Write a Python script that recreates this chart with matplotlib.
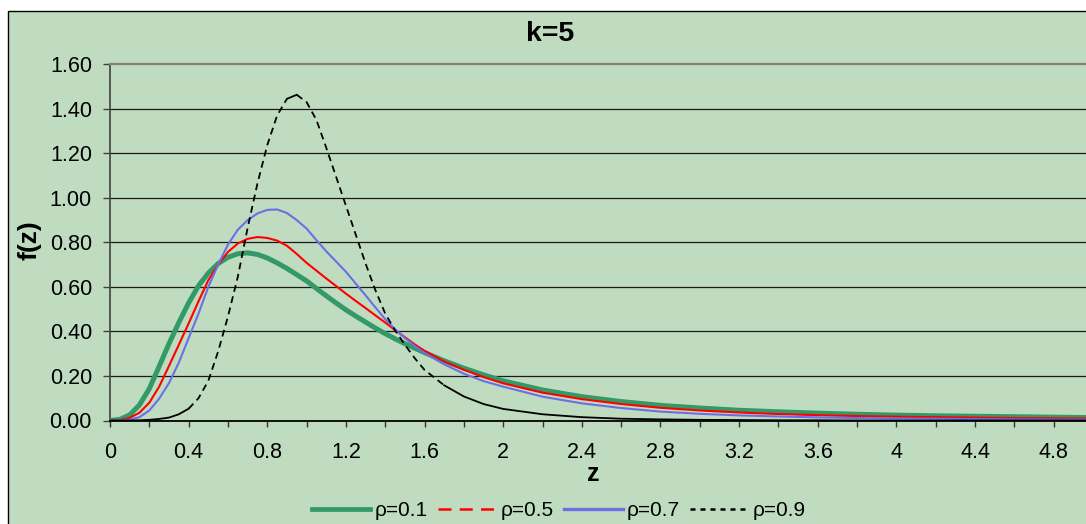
import matplotlib
matplotlib.use('Agg')
import matplotlib.pyplot as plt
from matplotlib.lines import Line2D
from matplotlib.patches import Rectangle
import numpy as np

plt.rcParams['font.family'] = ['Liberation Sans', 'DejaVu Sans']

# valores (k=5)
z = [0.0, 0.05, 0.1, 0.15, 0.2, 0.25, 0.3, 0.35, 0.4, 0.45, 0.5, 0.55, 0.6, 0.65,
     0.7, 0.75, 0.8, 0.85, 0.9, 0.95, 1.0, 1.05, 1.1, 1.15, 1.2, 1.25, 1.3, 1.35,
     1.4, 1.45, 1.5, 1.55, 1.6, 1.7, 1.8, 1.9, 2.0, 2.2, 2.4, 2.6, 2.8, 3.0, 3.2,
     3.4, 3.6, 3.8, 4.0, 4.2, 4.4, 4.6, 4.8, 5.0]

f_rho01 = [0.0, 0.005, 0.025, 0.07, 0.143, 0.243, 0.345, 0.44, 0.528, 0.605, 0.662,
           0.705, 0.733, 0.749, 0.753, 0.746, 0.73, 0.708, 0.683, 0.655, 0.627, 0.593,
           0.56, 0.528, 0.497, 0.469, 0.442, 0.415, 0.39, 0.367, 0.345, 0.325, 0.305,
           0.268, 0.235, 0.205, 0.178, 0.137, 0.107, 0.085, 0.068, 0.056, 0.046, 0.039,
           0.033, 0.028, 0.024, 0.021, 0.019, 0.017, 0.015, 0.013]

f_rho05 = [0.0, 0.002, 0.012, 0.035, 0.08, 0.152, 0.245, 0.34, 0.436, 0.535, 0.63,
           0.7, 0.757, 0.795, 0.816, 0.824, 0.82, 0.808, 0.785, 0.748, 0.708, 0.673,
           0.638, 0.604, 0.57, 0.537, 0.505, 0.472, 0.44, 0.406, 0.374, 0.342, 0.313,
           0.265, 0.228, 0.195, 0.167, 0.125, 0.096, 0.074, 0.057, 0.045, 0.036, 0.029,
           0.024, 0.02, 0.017, 0.015, 0.013, 0.011, 0.01, 0.009]

f_rho07 = [0.0, 0.001, 0.004, 0.015, 0.045, 0.098, 0.168, 0.26, 0.37, 0.48, 0.6,
           0.7, 0.79, 0.857, 0.9, 0.93, 0.946, 0.948, 0.932, 0.9, 0.862, 0.81,
           0.76, 0.714, 0.668, 0.615, 0.562, 0.508, 0.455, 0.41, 0.37, 0.335, 0.303,
           0.252, 0.21, 0.177, 0.152, 0.107, 0.077, 0.056, 0.04, 0.03, 0.023, 0.018,
           0.014, 0.011, 0.009, 0.008, 0.006, 0.005, 0.004, 0.004]

f_rho09 = [0.0, 0.0, 0.0, 0.001, 0.003, 0.007, 0.013, 0.028, 0.053, 0.1, 0.178,
           0.31, 0.467, 0.645, 0.865, 1.065, 1.237, 1.37, 1.445, 1.463, 1.43, 1.35,
           1.225, 1.095, 0.965, 0.835, 0.705, 0.585, 0.48, 0.405, 0.34, 0.28, 0.227,
           0.158, 0.108, 0.074, 0.052, 0.028, 0.015, 0.008, 0.005, 0.003, 0.002, 0.001,
           0.001, 0.0, 0.0, 0.0, 0.0, 0.0, 0.0, 0.0]

labels = ['ρ=0.1', 'ρ=0.5', 'ρ=0.7', 'ρ=0.9']
y_ticks = [0.0, 0.2, 0.4, 0.6, 0.8, 1.0, 1.2, 1.4, 1.6]
x_ticks = [0.0, 0.2, 0.4, 0.6, 0.8, 1.0, 1.2, 1.4, 1.6, 1.8, 2.0, 2.2, 2.4, 2.6,
           2.8, 3.0, 3.2, 3.4, 3.6, 3.8, 4.0, 4.2, 4.4, 4.6, 4.8]

fondo = '#C0DCC0'
c_verde = '#339966'
c_rojo = '#FF0000'
c_azul = '#6A6FE6'
c_negro = '#000000'

W, H = 1086, 524
fig = plt.figure(figsize=(W / 100, H / 100), dpi=100)
fig.patch.set_facecolor('white')

# area del grafico (recortada a la derecha y abajo)
fig.add_artist(Rectangle((7.5 / W, -1.0), 2.0, 1.0 + (1 - 10.5 / H),
                         transform=fig.transFigure, facecolor=fondo,
                         edgecolor='black', linewidth=1.0, zorder=0))

ax = fig.add_axes([110 / W, (H - 420.5) / H, 983 / W, 356.2 / H])
ax.set_facecolor(fondo)
ax.set_xlim(0, 5)
ax.set_ylim(0, 1.6)

# lineas de division
for v in y_ticks[1:-1]:
    ax.axhline(v, color='#1a1a1a', linewidth=0.9, zorder=1)

ax.plot(z, f_rho01, color=c_verde, linewidth=3.6, solid_capstyle='round', zorder=3)
ax.plot(z, f_rho05, color=c_rojo, linewidth=1.5, zorder=4)
ax.plot(z, f_rho07, color=c_azul, linewidth=1.5, zorder=5)

# rho=0.9: trazo punteado donde la curva es empinada (como lo pinta Excel)
zz = np.array(z)
ff = np.array(f_rho09)
pend = np.abs(np.diff(ff) / np.diff(zz)) > 0.55
i = 0
while i < len(pend):
    j = i
    while j + 1 < len(pend) and pend[j + 1] == pend[i]:
        j += 1
    seg_z = zz[i:j + 2]
    seg_f = ff[i:j + 2]
    if pend[i]:
        ax.plot(seg_z, seg_f, color=c_negro, linewidth=1.3, dashes=(3.8, 2.6), zorder=6)
    else:
        ax.plot(seg_z, seg_f, color=c_negro, linewidth=1.3, zorder=6)
    i = j + 1

ax.set_yticks(y_ticks)
ax.set_yticklabels([f'{v:.2f}' for v in y_ticks])
ax.set_xticks(x_ticks)
ax.set_xticklabels([f'{v:g}' if k % 2 == 0 else '' for k, v in enumerate(x_ticks)])
ax.tick_params(axis='y', direction='out', length=5, width=1, color='#404040',
               pad=8, labelsize=15.5)
ax.tick_params(axis='x', direction='out', length=4.5, width=1, color='#333333',
               pad=11, labelsize=15.5)

ax.spines['top'].set_color('#808080')
ax.spines['top'].set_linewidth(1.6)
ax.spines['right'].set_visible(False)
ax.spines['left'].set_color('#404040')
ax.spines['left'].set_linewidth(1.2)
ax.spines['bottom'].set_color('#000000')
ax.spines['bottom'].set_linewidth(1.3)
ax.spines['bottom'].set_zorder(7)

fig.text(550 / W, 1 - 34 / H, 'k=5', ha='center', va='center',
         fontsize=20.5, fontweight='bold')
fig.text(29 / W, 1 - 240 / H, 'f(z)', ha='center', va='center', rotation=90,
         fontsize=19, fontweight='bold')
fig.text(593 / W, 1 - 474 / H, 'z', ha='center', va='center',
         fontsize=18, fontweight='bold')

handles = [
    Line2D([], [], color=c_verde, linewidth=3.4),
    Line2D([], [], color=c_rojo, linewidth=1.8, dashes=(5.2, 3.3)),
    Line2D([], [], color=c_azul, linewidth=2.4),
    Line2D([], [], color=c_negro, linewidth=1.8, dashes=(2.0, 2.0)),
]
fig.legend(handles, labels, loc='center', bbox_to_anchor=(559 / W, 1 - 511 / H),
           ncol=4, frameon=False, fontsize=15, handlelength=2.8,
           handletextpad=0.2, columnspacing=0.5, borderpad=0)

fig.savefig('out.png', dpi=100, facecolor=fig.get_facecolor())
